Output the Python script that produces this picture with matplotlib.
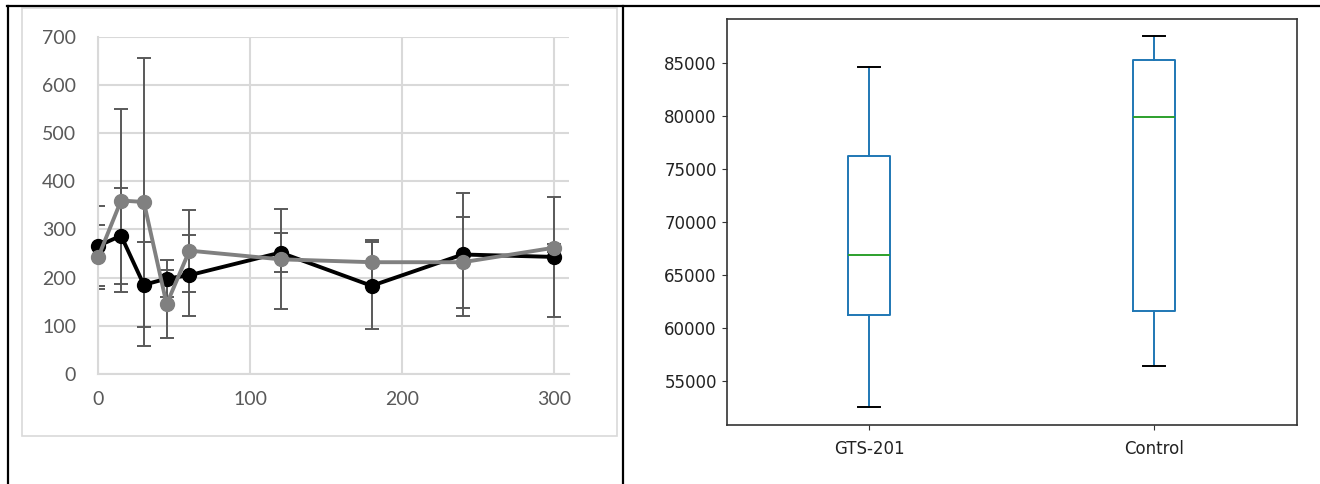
import matplotlib.pyplot as plt
from matplotlib.lines import Line2D
from matplotlib.patches import Rectangle

# left panel: time course, two series with error bars
times = [0, 15, 30, 45, 60, 120, 180, 240, 300]
black_mean = [266, 287, 185, 198, 205, 252, 183, 248, 243]
black_err = [83, 100, 88, 38, 84, 40, 90, 127, 125]
gray_mean = [243, 360, 357, 145, 256, 238, 232, 232, 262]
gray_err = [67, 190, 298, 70, 85, 104, 47, 94, 8]

# right panel: box plot summaries
groups = ['GTS-201', 'Control']
whislo = [52600, 56450]
q1 = [61200, 61600]
med = [66850, 79900]
q3 = [76250, 85300]
whishi = [84650, 87500]

W, H = 1320, 484
fig = plt.figure(figsize=(W / 100, H / 100), dpi=100)


def px_axes(x0, y0, x1, y1):
    # axes from pixel box (top-left origin)
    return fig.add_axes([x0 / W, 1 - y1 / H, (x1 - x0) / W, (y1 - y0) / H])


def fig_line(xs, ys, lw=2.0, color='black'):
    fig.add_artist(Line2D([x / W for x in xs], [1 - y / H for y in ys],
                          transform=fig.transFigure, color=color, lw=lw))


# table borders
fig_line([7, W], [6, 6], lw=1.6)
fig_line([7.5, 7.5], [6, H], lw=1.6)
fig_line([623, 623], [6, H], lw=1.6)

# excel chart area frame
fig.add_artist(Rectangle((21.5 / W, 1 - 436 / H), (617 - 21.5) / W, (436 - 8) / H,
                         transform=fig.transFigure, fill=False,
                         edgecolor='#d9d9d9', lw=1.2))

# ---- left chart ----
ax1 = px_axes(98.3, 36.7, 569, 374)
ax1.set_xlim(0, 310)
ax1.set_ylim(0, 700)
ax1.set_xticks([0, 100, 200, 300])
ax1.set_yticks(range(0, 701, 100))
ax1.grid(True, color='#d9d9d9', lw=1.5)
ax1.set_axisbelow(True)
for s in ['top', 'right']:
    ax1.spines[s].set_visible(False)
for s in ['left', 'bottom']:
    ax1.spines[s].set_color('#d9d9d9')
    ax1.spines[s].set_linewidth(1.5)
ax1.tick_params(length=0, labelsize=14, labelcolor='#595959')
ax1.tick_params(axis='y', pad=16)
ax1.tick_params(axis='x', pad=12)
for lab in ax1.get_xticklabels() + ax1.get_yticklabels():
    lab.set_family('Lato')

ax1.errorbar(times, black_mean, yerr=black_err, fmt='none', ecolor='#595959',
             elinewidth=1.4, capsize=5, capthick=1.4, zorder=2)
ax1.errorbar(times, gray_mean, yerr=gray_err, fmt='none', ecolor='#595959',
             elinewidth=1.4, capsize=5, capthick=1.4, zorder=2)
ax1.plot(times, black_mean, color='black', lw=2.8, marker='o', ms=10,
         zorder=3, clip_on=False)
ax1.plot(times, gray_mean, color='#808080', lw=2.8, marker='o', ms=10,
         zorder=4, clip_on=False)

# ---- right chart ----
ax2 = px_axes(726.5, 19, 1296.5, 425)
stats = []
for i, g in enumerate(groups):
    stats.append(dict(label=g, whislo=whislo[i], q1=q1[i], med=med[i],
                      q3=q3[i], whishi=whishi[i], fliers=[]))
ax2.bxp(stats, positions=[1, 2], widths=0.15, showfliers=False,
        boxprops=dict(color='#1f77b4', lw=1.4),
        whiskerprops=dict(color='#1f77b4', lw=1.4),
        medianprops=dict(color='#2ca02c', lw=1.4),
        capprops=dict(color='black', lw=1.4))
ax2.set_xlim(0.5, 2.5)
ax2.set_ylim(50860, 89140)
ax2.set_yticks(range(55000, 85001, 5000))
ax2.tick_params(labelsize=12, labelcolor='#222222', color='#333333')
ax2.tick_params(axis='x', pad=7)
for s in ax2.spines.values():
    s.set_color('#333333')
    s.set_linewidth(1.2)

fig.savefig('out.png', dpi=100)
